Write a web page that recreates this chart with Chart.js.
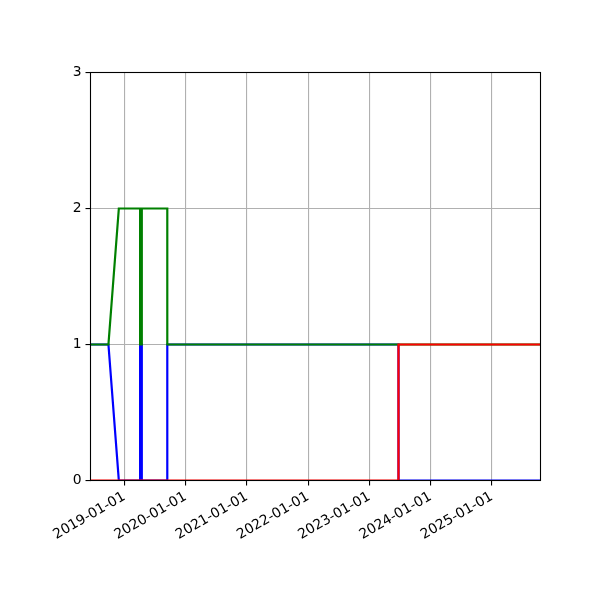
<!DOCTYPE html>
<html>
<head>
<meta charset="utf-8">
<script src="https://cdn.jsdelivr.net/npm/chart.js@4.4.0/dist/chart.umd.min.js"></script>
<style>
  html, body { margin: 0; padding: 0; background: #fff; }
</style>
</head>
<body>
<canvas id="grafico" width="600" height="600"></canvas>
<script>
// dados
const datas = ['2018-06-13', '2018-09-28', '2018-11-29', '2019-04-05', '2019-04-05', '2019-04-15',
               '2019-04-15', '2019-09-14', '2019-09-14', '2023-06-24', '2023-06-24', '2025-10-18'];
const serieAzul  = [1, 1, 0, 0, 1, 1, 0, 0, 1, 1, 0, 0];
const serieVerde = [1, 1, 2, 2, 1, 1, 2, 2, 1, 1, 1, 1];
const serieVermelha = [0, 0, 0, 0, 0, 0, 0, 0, 0, 0, 1, 1];
const anosTicks = ['2019-01-01', '2020-01-01', '2021-01-01', '2022-01-01', '2023-01-01', '2024-01-01', '2025-01-01'];
const yTicks = [0, 1, 2, 3];

// converte 'YYYY-MM-DD' em timestamp UTC
function paraTempo(s) {
    let p = s.split('-');
    return Date.UTC(+p[0], +p[1] - 1, +p[2]);
}

function formatarData(v) {
    let d = new Date(v);
    let m = String(d.getUTCMonth() + 1).padStart(2, '0');
    let dia = String(d.getUTCDate()).padStart(2, '0');
    return d.getUTCFullYear() + '-' + m + '-' + dia;
}

function pontos(valores) {
    return datas.map((d, i) => ({ x: paraTempo(d), y: valores[i] }));
}

// moldura preta em volta da área do gráfico (spines)
const moldura = {
    id: 'moldura',
    afterDraw(chart) {
        const a = chart.chartArea;
        const ctx = chart.ctx;
        ctx.save();
        ctx.strokeStyle = '#000';
        ctx.lineWidth = 1.1;
        ctx.strokeRect(a.left, a.top, a.right - a.left, a.bottom - a.top);
        ctx.restore();
    }
};

Chart.defaults.font.family = 'DejaVu Sans';
Chart.defaults.font.size = 13.9;
Chart.defaults.color = '#000';

const linha = (label, valores, cor, ordem) => ({
    label: label,
    data: pontos(valores),
    borderColor: cor,
    backgroundColor: cor,
    borderWidth: 2.2,
    pointRadius: 0,
    tension: 0,
    fill: false,
    order: ordem
});

new Chart(document.getElementById('grafico').getContext('2d'), {
    type: 'line',
    data: {
        datasets: [
            linha('azul', serieAzul, '#0000ff', 3),
            linha('verde', serieVerde, '#008000', 2),
            linha('vermelho', serieVermelha, '#ff0000', 1)
        ]
    },
    options: {
        responsive: false,
        animation: false,
        layout: { padding: { left: 0, top: 72.5, right: 59.5, bottom: 0 } },
        plugins: {
            legend: { display: false },
            tooltip: { enabled: false }
        },
        scales: {
            x: {
                type: 'linear',
                min: paraTempo(datas[0]),
                max: paraTempo(datas[datas.length - 1]),
                afterBuildTicks: (scale) => {
                    scale.ticks = anosTicks.map(a => ({ value: paraTempo(a) }));
                },
                afterFit: (scale) => { scale.height = 119.5; },
                grid: { color: '#b0b0b0', lineWidth: 1.1, tickColor: '#000', tickLength: 5 },
                border: { display: false },
                ticks: {
                    minRotation: 30,
                    maxRotation: 30,
                    padding: 3,
                    autoSkip: false,
                    callback: (v) => formatarData(v)
                }
            },
            y: {
                min: 0,
                max: 3,
                afterBuildTicks: (scale) => {
                    scale.ticks = yTicks.map(v => ({ value: v }));
                },
                afterFit: (scale) => { scale.width = 90.5; },
                grid: { color: '#b0b0b0', lineWidth: 1.1, tickColor: '#000', tickLength: 5 },
                border: { display: false },
                ticks: { padding: 4 }
            }
        }
    },
    plugins: [moldura]
});
</script>
</body>
</html>
